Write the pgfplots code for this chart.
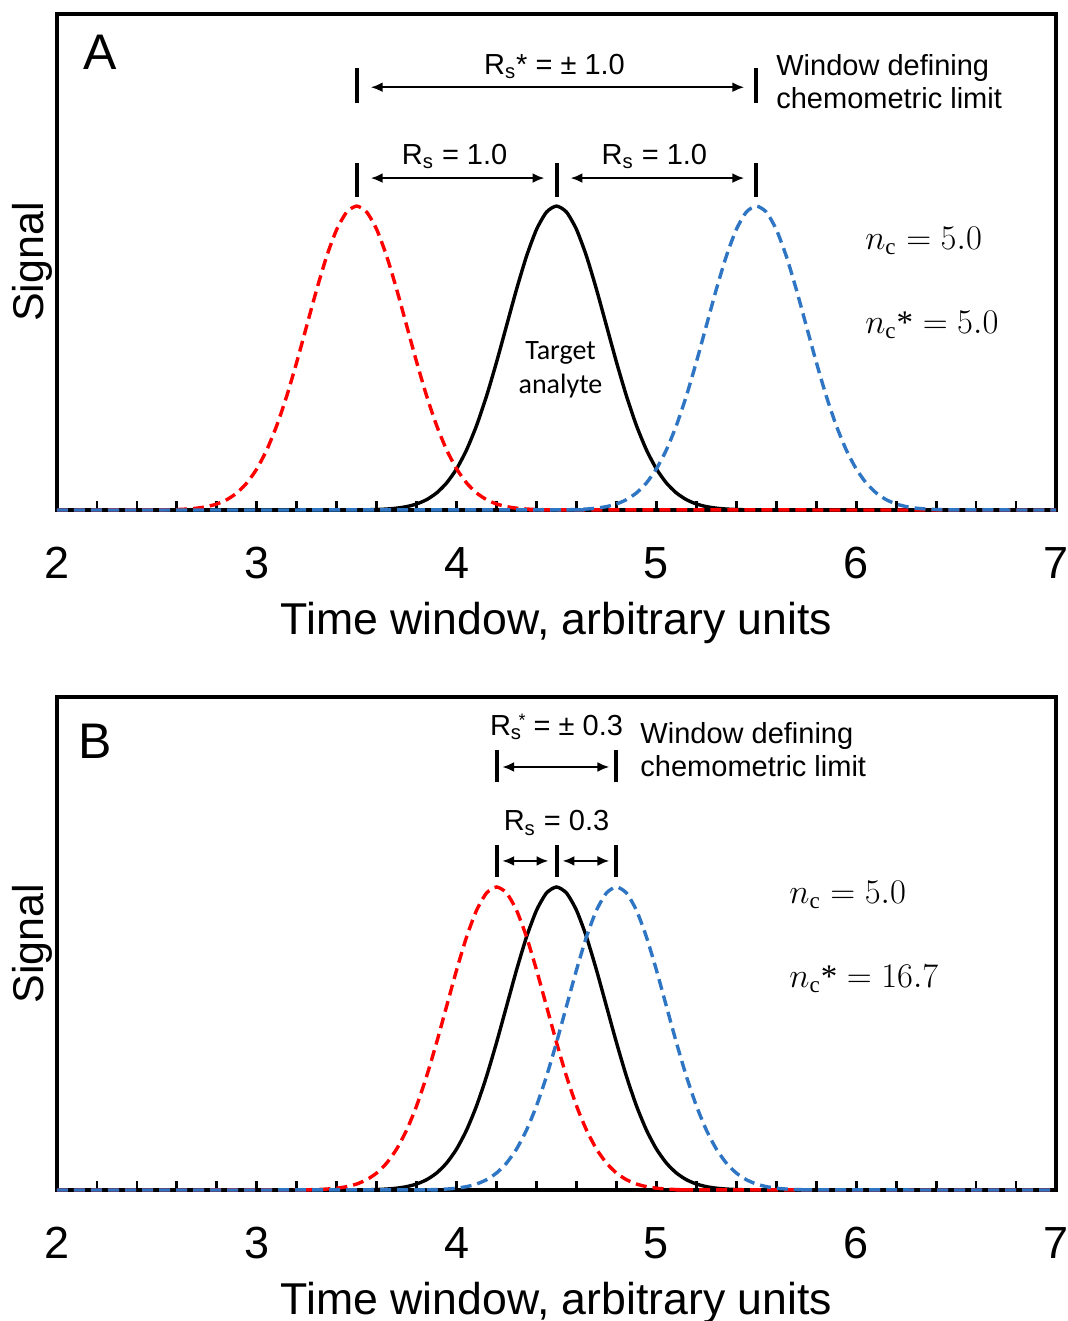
\documentclass[border=0pt]{standalone}
\usepackage{amsmath}
\usepackage{pgfplots}
\pgfplotsset{compat=1.18}
\usepackage{fontspec}
\setmainfont{Liberation Sans}
\newfontfamily\calibri{Carlito}
\newfontfamily\serif{Liberation Serif}
\usetikzlibrary{arrows.meta}
\definecolor{pkred}{RGB}{255,0,0}
\definecolor{pkblue}{RGB}{46,117,196}
\newcommand{\redA}{(2,0)(2.5,0.0003)(2.55,0.0007)(2.6,0.0015)(2.65,0.0031)(2.7,0.0060)(2.75,0.0111)(2.8,0.0198)(2.85,0.0340)(2.9,0.0561)(2.95,0.0889)(3,0.1353)(3.05,0.1979)(3.1,0.2780)(3.15,0.3753)(3.2,0.4868)(3.25,0.6065)(3.3,0.7261)(3.35,0.8353)(3.4,0.9231)(3.45,0.9802)(3.5,1)(3.55,0.9802)(3.6,0.9231)(3.65,0.8353)(3.7,0.7261)(3.75,0.6065)(3.8,0.4868)(3.85,0.3753)(3.9,0.2780)(3.95,0.1979)(4,0.1353)(4.05,0.0889)(4.1,0.0561)(4.15,0.0340)(4.2,0.0198)(4.25,0.0111)(4.3,0.0060)(4.35,0.0031)(4.4,0.0015)(4.45,0.0007)(4.5,0.0003)(7,0)}
\newcommand{\blackAB}{(2,0)(3.5,0.0003)(3.55,0.0007)(3.6,0.0015)(3.65,0.0031)(3.7,0.0060)(3.75,0.0111)(3.8,0.0198)(3.85,0.0340)(3.9,0.0561)(3.95,0.0889)(4,0.1353)(4.05,0.1979)(4.1,0.2780)(4.15,0.3753)(4.2,0.4868)(4.25,0.6065)(4.3,0.7261)(4.35,0.8353)(4.4,0.9231)(4.45,0.9802)(4.5,1)(4.55,0.9802)(4.6,0.9231)(4.65,0.8353)(4.7,0.7261)(4.75,0.6065)(4.8,0.4868)(4.85,0.3753)(4.9,0.2780)(4.95,0.1979)(5,0.1353)(5.05,0.0889)(5.1,0.0561)(5.15,0.0340)(5.2,0.0198)(5.25,0.0111)(5.3,0.0060)(5.35,0.0031)(5.4,0.0015)(5.45,0.0007)(5.5,0.0003)(7,0)}
\newcommand{\blueA}{(2,0)(4.5,0.0003)(4.55,0.0007)(4.6,0.0015)(4.65,0.0031)(4.7,0.0060)(4.75,0.0111)(4.8,0.0198)(4.85,0.0340)(4.9,0.0561)(4.95,0.0889)(5,0.1353)(5.05,0.1979)(5.1,0.2780)(5.15,0.3753)(5.2,0.4868)(5.25,0.6065)(5.3,0.7261)(5.35,0.8353)(5.4,0.9231)(5.45,0.9802)(5.5,1)(5.55,0.9802)(5.6,0.9231)(5.65,0.8353)(5.7,0.7261)(5.75,0.6065)(5.8,0.4868)(5.85,0.3753)(5.9,0.2780)(5.95,0.1979)(6,0.1353)(6.05,0.0889)(6.1,0.0561)(6.15,0.0340)(6.2,0.0198)(6.25,0.0111)(6.3,0.0060)(6.35,0.0031)(6.4,0.0015)(6.45,0.0007)(6.5,0.0003)(7,0)}
\newcommand{\redB}{(2,0)(3.2,0.0003)(3.25,0.0007)(3.3,0.0015)(3.35,0.0031)(3.4,0.0060)(3.45,0.0111)(3.5,0.0198)(3.55,0.0340)(3.6,0.0561)(3.65,0.0889)(3.7,0.1353)(3.75,0.1979)(3.8,0.2780)(3.85,0.3753)(3.9,0.4868)(3.95,0.6065)(4,0.7261)(4.05,0.8353)(4.1,0.9231)(4.15,0.9802)(4.2,1)(4.25,0.9802)(4.3,0.9231)(4.35,0.8353)(4.4,0.7261)(4.45,0.6065)(4.5,0.4868)(4.55,0.3753)(4.6,0.2780)(4.65,0.1979)(4.7,0.1353)(4.75,0.0889)(4.8,0.0561)(4.85,0.0340)(4.9,0.0198)(4.95,0.0111)(5,0.0060)(5.05,0.0031)(5.1,0.0015)(5.15,0.0007)(5.2,0.0003)(7,0)}
\newcommand{\blueB}{(2,0)(3.8,0.0003)(3.85,0.0007)(3.9,0.0015)(3.95,0.0031)(4,0.0060)(4.05,0.0111)(4.1,0.0198)(4.15,0.0340)(4.2,0.0561)(4.25,0.0889)(4.3,0.1353)(4.35,0.1979)(4.4,0.2780)(4.45,0.3753)(4.5,0.4868)(4.55,0.6065)(4.6,0.7261)(4.65,0.8353)(4.7,0.9231)(4.75,0.9802)(4.8,1)(4.85,0.9802)(4.9,0.9231)(4.95,0.8353)(5,0.7261)(5.05,0.6065)(5.1,0.4868)(5.15,0.3753)(5.2,0.2780)(5.25,0.1979)(5.3,0.1353)(5.35,0.0889)(5.4,0.0561)(5.45,0.0340)(5.5,0.0198)(5.55,0.0111)(5.6,0.0060)(5.65,0.0031)(5.7,0.0015)(5.75,0.0007)(5.8,0.0003)(7,0)}
\tikzset{
  blk/.style={black, line width=1.7pt, smooth, tension=0.4},
  rd/.style={pkred, line width=1.7pt, dash pattern=on 5.5pt off 3pt, smooth, tension=0.4},
  bl/.style={pkblue, line width=1.7pt, dash pattern=on 5.5pt off 3pt, smooth, tension=0.4},
  ann/.style={font=\fontsize{14.5}{16.5}\selectfont},
  dbl/.style={line width=1.2pt, {Latex[length=6pt,width=5pt]}-{Latex[length=6pt,width=5pt]}},
  bar/.style={line width=2pt},
  nc/.style={anchor=west, font=\fontsize{16.5}{18}\selectfont},
}
\newcommand{\nsub}{n_{\text{\serif c}}}
\newcommand{\nstar}{n_{\text{\serif c}}\text{\serif *}}
\pgfplotsset{
  panel/.style={
    scale only axis, width=499.5pt,
    xmin=2, xmax=7, ymin=0,
    ytick=\empty,
    xtick={2,3,4,5,6,7},
    minor xtick={2.2,2.4,2.6,2.8,3.2,3.4,3.6,3.8,4.2,4.4,4.6,4.8,5.2,5.4,5.6,5.8,6.2,6.4,6.6,6.8},
    xtick pos=left,
    tick align=inside,
    major tick length=4.5pt, minor tick length=4.5pt,
    every tick/.style={black, line width=1.4pt},
    axis line style={line width=1.8pt},
    /pgf/number format/assume math mode=true,
    xticklabel style={font=\fontsize{22.5}{26}\selectfont, yshift=-15pt},
    xlabel={Time window, arbitrary units},
    xlabel style={font=\fontsize{22.3}{26}\selectfont, yshift=-5pt},
    ylabel={Signal},
    ylabel style={font=\fontsize{21.5}{25}\selectfont, at={(rel axis cs:-0.025,0.5)}, anchor=center},
    clip=false,
  },
}
\begin{document}
\begin{tikzpicture}
\useasboundingbox (0,0) rectangle (533.5pt,660.5pt);
% Panel A
\begin{axis}[panel, height=248pt, ymax=1.632, at={(28.5pt,405.5pt)}, anchor=south west]
\addplot[blk] coordinates {\blackAB};
\addplot[rd] coordinates {\redA};
\addplot[bl] coordinates {\blueA};
\node[font=\fontsize{25}{28}\selectfont] at (axis cs:2.215,1.507) {A};
\draw[bar] (axis cs:3.5,1.03) -- (axis cs:3.5,1.141);
\draw[bar] (axis cs:4.5,1.03) -- (axis cs:4.5,1.141);
\draw[bar] (axis cs:5.5,1.03) -- (axis cs:5.5,1.141);
\draw[dbl] (axis cs:3.57,1.092) -- (axis cs:4.44,1.092);
\draw[dbl] (axis cs:4.57,1.092) -- (axis cs:5.44,1.092);
\node[ann] at (axis cs:3.99,1.163) {R\textsubscript{s} = 1.0};
\node[ann] at (axis cs:4.99,1.163) {R\textsubscript{s} = 1.0};
\draw[bar] (axis cs:3.5,1.339) -- (axis cs:3.5,1.454);
\draw[bar] (axis cs:5.5,1.339) -- (axis cs:5.5,1.454);
\draw[dbl] (axis cs:3.57,1.391) -- (axis cs:5.44,1.391);
\node[ann] at (axis cs:4.49,1.46) {R\textsubscript{s}* = ± 1.0};
\node[ann, anchor=west, align=left] at (axis cs:5.565,1.408) {Window defining\\chemometric limit};
\node[nc] at (axis cs:6.01,0.885) {$\nsub = 5.0$};
\node[nc] at (axis cs:6.01,0.609) {$\nstar = 5.0$};
\node[font=\calibri\fontsize{14}{17}\selectfont, align=center] at (axis cs:4.52,0.46) {Target\\analyte};
\end{axis}
% Panel B
\begin{axis}[panel, height=246.5pt, ymax=1.627, at={(28.5pt,65.5pt)}, anchor=south west]
\addplot[blk] coordinates {\blackAB};
\addplot[rd] coordinates {\redB};
\addplot[bl] coordinates {\blueB};
\node[font=\fontsize{25}{28}\selectfont] at (axis cs:2.19,1.482) {B};
\draw[bar] (axis cs:4.2,1.033) -- (axis cs:4.2,1.139);
\draw[bar] (axis cs:4.5,1.033) -- (axis cs:4.5,1.139);
\draw[bar] (axis cs:4.8,1.033) -- (axis cs:4.8,1.139);
\draw[dbl] (axis cs:4.228,1.086) -- (axis cs:4.46,1.086);
\draw[dbl] (axis cs:4.53,1.086) -- (axis cs:4.765,1.086);
\node[ann] at (axis cs:4.5,1.211) {R\textsubscript{s} = 0.3};
\draw[bar] (axis cs:4.2,1.347) -- (axis cs:4.2,1.452);
\draw[bar] (axis cs:4.8,1.347) -- (axis cs:4.8,1.452);
\draw[dbl] (axis cs:4.228,1.396) -- (axis cs:4.765,1.396);
\node[ann] at (axis cs:4.5,1.528) {R\textsubscript{s}\kern-0.12em\raisebox{0.55ex}{\fontsize{9}{10}\selectfont *} = ± 0.3};
\node[ann, anchor=west, align=left] at (axis cs:4.885,1.452) {Window defining\\chemometric limit};
\node[nc] at (axis cs:5.63,0.974) {$\nsub = 5.0$};
\node[nc] at (axis cs:5.63,0.696) {$\nstar = 16.7$};
\end{axis}
\end{tikzpicture}
\end{document}
